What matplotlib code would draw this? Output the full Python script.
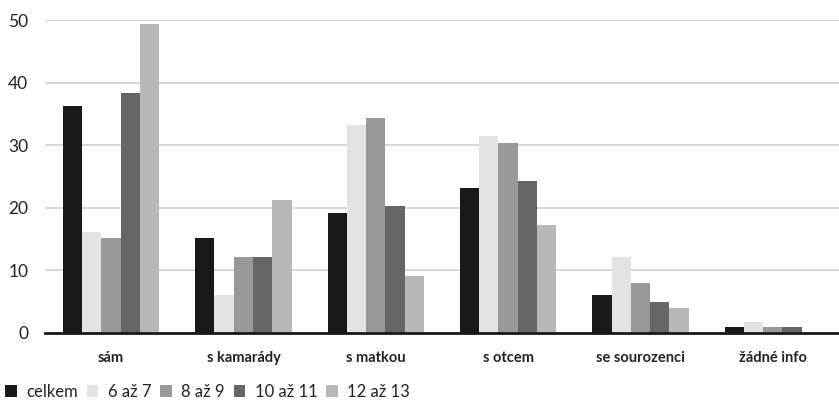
import matplotlib.pyplot as plt
import numpy as np
from matplotlib.patches import Patch

plt.rcParams['font.family'] = ['Lato', 'DejaVu Sans']

categories = ['sám', 's kamarády', 's matkou', 's otcem', 'se sourozenci', 'žádné info']
series_names = ['celkem', '6 až 7', '8 až 9', '10 až 11', '12 až 13']
celkem = [36.3, 15.1, 19.1, 23.2, 6.0, 0.9]
vek_6_7 = [16.1, 6.0, 33.2, 31.4, 12.1, 1.8]
vek_8_9 = [15.1, 12.1, 34.3, 30.3, 8.0, 0.9]
vek_10_11 = [38.3, 12.1, 20.3, 24.2, 5.0, 0.9]
vek_12_13 = [49.4, 21.2, 9.1, 17.2, 3.9, 0.0]
series = [celkem, vek_6_7, vek_8_9, vek_10_11, vek_12_13]
colors = ['#181a19', '#e3e3e3', '#999999', '#666666', '#b8b8b8']

fig = plt.figure(figsize=(8.39, 4.01), dpi=100)
ax = fig.add_axes([0.0536, 0.170, 0.9464, 0.780])

x = np.arange(len(categories))
w = 0.146
for i, (vals, c) in enumerate(zip(series, colors)):
    ax.bar(x + (i - 2) * w, vals, w, color=c, zorder=3)

ax.set_xlim(-0.5, len(categories) - 0.5)
ax.set_ylim(0, 50)
ax.set_yticks(range(0, 51, 10))
ax.yaxis.grid(True, color='#d0d0d0', linewidth=1.2, zorder=0)
ax.set_axisbelow(True)
for s in ['top', 'right', 'left']:
    ax.spines[s].set_visible(False)
ax.spines['bottom'].set_linewidth(2)
ax.spines['bottom'].set_color('#1a1a1a')
ax.spines['bottom'].set_zorder(4)
ax.tick_params(axis='y', length=0, pad=12, labelsize=12.5, labelcolor='#222222')
ax.tick_params(axis='x', length=0, pad=13)
ax.set_xticks(x)
ax.set_xticklabels(categories, fontsize=10.5, fontweight='bold', color='#222222')

handles = [Patch(facecolor=c, label=n) for c, n in zip(colors, series_names)]
fig.legend(handles=handles, loc='lower left', bbox_to_anchor=(-0.012, -0.035), ncol=5,
           frameon=False, fontsize=12, handlelength=0.7, handleheight=0.7,
           handletextpad=0.55, columnspacing=0.55, labelcolor='#222222')

fig.savefig('out.png', dpi=100)
